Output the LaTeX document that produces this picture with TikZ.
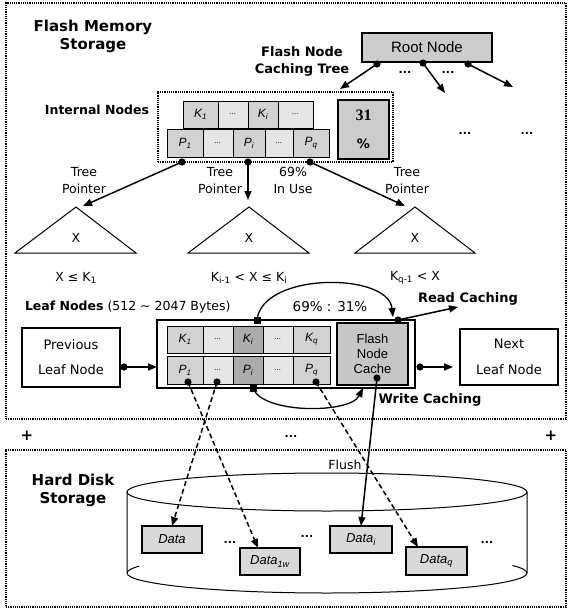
\documentclass[tikz,border=0pt]{standalone}
\usepackage{fontspec}
\setmainfont{DejaVu Sans}
\newfontfamily\arialf{Liberation Sans}
\newfontfamily\timesf{Liberation Serif}
\usetikzlibrary{arrows.meta,calc}
\tikzset{
 ttl/.style={font=\bfseries\fontsize{15}{18}\selectfont, align=center},
 hdr/.style={font=\bfseries\fontsize{13}{17}\selectfont, align=center},
 txt/.style={font=\fontsize{12.5}{17}\selectfont, align=center},
 cellbox/.style={draw, line width=1pt, fill=gray!35, font=\arialf\itshape\fontsize{12}{14}\selectfont},
 lightcell/.style={cellbox, fill=gray!20, font=\arialf\itshape\fontsize{8}{8}\selectfont},
 darkcell/.style={cellbox, fill=gray!65},
 dotbox/.style={draw, line width=1.2pt, densely dotted},
 plainbox/.style={draw, line width=1.3pt, fill=white},
 ptr/.style={line width=1.5pt, -{Triangle[length=9pt,width=7pt]}},
 dptr/.style={ptr, dash pattern=on 5pt off 3pt},
 datab/.style={draw, line width=1.3pt, fill=gray!30, font=\arialf\itshape\fontsize{13}{15}\selectfont},
 ell/.style={font=\bfseries\fontsize{11}{13}\selectfont},
 tri/.style={draw, line width=1pt},
}
\begin{document}
\begin{tikzpicture}[x=1pt,y=-1pt, every node/.style={inner sep=0pt,outer sep=0pt}]
\useasboundingbox (0,0) rectangle (570,608);
% regions
\node[dotbox, minimum width=560, minimum height=416] (flash) at (286,211) {};
\node[dotbox, minimum width=560, minimum height=157] (hdd) at (286,528.5) {};
\node[ttl] (ftitle) at (93,36) {Flash Memory\\Storage};
\node[ttl] (htitle) at (73,490.5) {Hard Disk\\Storage};
\node[hdr] (cttitle) at (302,61.5) {Flash Node\\Caching Tree};
% root
\node[draw, line width=1.3pt, fill=gray!40, minimum width=130, minimum height=29,
      font=\arialf\fontsize{15}{17}\selectfont] (root) at (427,47.5) {Root Node};
\coordinate (rd1) at (377,64); \coordinate (rd2) at (423,63); \coordinate (rd3) at (468,64);
\coordinate (r2end) at (445,93); \coordinate (r3end) at (513,87);
\node[ell] (rdots1) at (405,72) {...};
\node[ell] (rdots2) at (448,72) {...};
\node[ell] (rdots3) at (465,133) {...};
\node[ell] (rdots4) at (527,133) {...};
% internal nodes
\node[font=\bfseries\fontsize{12.5}{15}\selectfont] (inlabel) at (97,110) {Internal Nodes};
\node[dotbox, minimum width=235, minimum height=70] (inbox) at (275.5,127) {};
\node[cellbox, minimum width=35, minimum height=27] (ik1) at (200.5,114.5) {K\textsubscript{1}};
\node[lightcell, minimum width=30, minimum height=27] (ikd1) at (233,114.5) {...};
\node[cellbox, minimum width=30, minimum height=27] (iki) at (263,114.5) {K\textsubscript{i}};
\node[lightcell, minimum width=35, minimum height=27] (ikd2) at (295.5,114.5) {...};
\node[cellbox, minimum width=36, minimum height=28] (ip1) at (185,143) {P\textsubscript{1}};
\node[lightcell, minimum width=30, minimum height=28] (ipd1) at (218,143) {...};
\node[cellbox, minimum width=32, minimum height=28] (ipi) at (249,143) {P\textsubscript{i}};
\node[lightcell, minimum width=28, minimum height=28] (ipd2) at (279,143) {...};
\node[cellbox, minimum width=36, minimum height=28] (ipq) at (311,143) {P\textsubscript{q}};
\node[draw, line width=1.3pt, fill=gray!40, minimum width=51, minimum height=59] (pct) at (363.5,129.5) {};
\node[font=\timesf\bfseries\fontsize{16}{16}\selectfont] (pct31) at (363.5,115) {31};
\node[font=\bfseries\fontsize{13}{13}\selectfont] (pctp) at (363.5,144) {\%};
\coordinate (id1) at (182,162); \coordinate (id2) at (248,162); \coordinate (id3) at (310,162);
% subtrees
\coordinate (t1) at (76,207); \coordinate (t2) at (249,207); \coordinate (t3) at (415,207);
\draw[tri] (t1) -- ++(-61,46) -- ++(121,0) -- cycle;
\draw[tri] (t2) -- ++(-61,46) -- ++(121,0) -- cycle;
\draw[tri] (t3) -- ++(-60,46) -- ++(120,0) -- cycle;
\node[txt] (x1) at (76,238) {X};
\node[txt] (x2) at (249,238) {X};
\node[txt] (x3) at (415,238) {X};
\node[txt] (c1) at (76,278) {X ≤ K\textsubscript{1}};
\node[txt] (c2) at (249,278) {K\textsubscript{i-1} < X ≤ K\textsubscript{i}};
\node[txt] (c3) at (415,278) {K\textsubscript{q-1} < X};
\node[txt] (tp1) at (84,180.5) {Tree\\Pointer};
\node[txt] (tp2) at (220,180.5) {Tree\\Pointer};
\node[txt] (inuse) at (293,180.5) {69\%\\In Use};
\node[txt] (tp3) at (407,180.5) {Tree\\Pointer};
% leaf level
\node[anchor=west, font=\fontsize{12.5}{15}\selectfont] (leaflabel) at (25,307)
  {{\bfseries Leaf Nodes} (512 \textasciitilde{} 2047 Bytes)};
\node[plainbox, minimum width=98, minimum height=59, font=\fontsize{13}{25}\selectfont, align=center] (prev) at (71,357.5) {Previous\\Leaf Node};
\node[plainbox, minimum width=98, minimum height=56, font=\fontsize{13}{26}\selectfont, align=center] (next) at (509,357) {Next\\Leaf Node};
\node[plainbox, minimum width=258, minimum height=68] (leafbox) at (286,354) {};
\node[cellbox, minimum width=36, minimum height=27] (lk1) at (185,339.5) {K\textsubscript{1}};
\node[lightcell, minimum width=30, minimum height=27] (lkd1) at (218,339.5) {...};
\node[darkcell, minimum width=30, minimum height=27] (lki) at (248,339.5) {K\textsubscript{i}};
\node[lightcell, minimum width=30, minimum height=27] (lkd2) at (278,339.5) {...};
\node[cellbox, minimum width=37, minimum height=27] (lkq) at (311.5,339.5) {K\textsubscript{q}};
\node[cellbox, minimum width=36, minimum height=28] (lp1) at (185,370) {P\textsubscript{1}};
\node[lightcell, minimum width=30, minimum height=28] (lpd1) at (218,370) {...};
\node[darkcell, minimum width=30, minimum height=28] (lpi) at (248,370) {P\textsubscript{i}};
\node[lightcell, minimum width=30, minimum height=28] (lpd2) at (278,370) {...};
\node[cellbox, minimum width=37, minimum height=28] (lpq) at (311.5,370) {P\textsubscript{q}};
\node[draw, line width=1.3pt, fill=gray!45, minimum width=71, minimum height=62,
      font=\arialf\fontsize{13}{15}\selectfont, align=center] (cache) at (372.5,354) {Flash\\Node\\Cache};
\node[font=\fontsize{13.5}{15}\selectfont] (ratio) at (330,307) {69\% : 31\%};
\node[hdr] (readc) at (468,299) {Read Caching};
\node[hdr] (writec) at (430,400) {Write Caching};
\coordinate (kitop) at (257,320); \coordinate (pibot) at (253,388);
\coordinate (rcdot) at (398,320); \coordinate (rcend) at (458,307);
\coordinate (wcend) at (363,388);
\coordinate (fldot) at (377,378);
\coordinate (lpd1dot) at (217,382); \coordinate (lp1dot) at (188,382); \coordinate (lpqdot) at (316,382);
\node[ell, font=\bfseries\fontsize{15}{15}\selectfont] (plusl) at (27,436) {+};
\node[ell, font=\bfseries\fontsize{15}{15}\selectfont] (plusr) at (551,436) {+};
\node[ell] (middots) at (291,436) {...};
% disk cylinder
\draw[line width=1pt] (327,492) ellipse [x radius=200, y radius=19];
\draw[line width=1pt] (127,492) -- (127,573) arc[start angle=180, end angle=0, x radius=200, y radius=20] -- (527,492);
\draw[line width=1pt] (127,573) arc[start angle=180, end angle=200, x radius=200, y radius=20];
\draw[line width=1pt] (527,573) arc[start angle=0, end angle=-22, x radius=200, y radius=20];
\node[datab, minimum width=60, minimum height=27] (data0) at (172,539.5) {Data};
\node[datab, minimum width=60, minimum height=27] (data1) at (270,561.5) {Data\textsubscript{1w}};
\node[datab, minimum width=62, minimum height=27] (dati) at (361,539.5) {Data\textsubscript{i}};
\node[datab, minimum width=61, minimum height=28] (dataq) at (436.5,561) {Data\textsubscript{q}};
\node[ell] (ddots1) at (230,542) {...};
\node[ell] (ddots2) at (307,536) {...};
\node[ell] (ddots3) at (487,542) {...};
\node[txt] (flush) at (345,465) {Flush};
% connectors
\foreach \c in {rd1,rd2,rd3,id1,id2,id3,rcdot,fldot,lpd1dot,lp1dot,lpqdot}
  \fill (\c) circle[radius=3.6pt];
\fill ($(kitop)+(-3.5,-3.5)$) rectangle ($(kitop)+(3.5,3.5)$);
\fill ($(pibot)+(-3.5,-3.5)$) rectangle ($(pibot)+(3.5,3.5)$);
\fill ($(prev.east)+(4,9.5)$) circle[radius=3.6pt];
\fill ($(leafbox.east)+(5,13)$) circle[radius=3.6pt];
\draw[ptr] (rd1) -- ($(inbox.north east)+(-53,-3)$);
\draw[ptr] (rd2) -- (r2end);
\draw[ptr] (rd3) -- (r3end);
\draw[ptr] (id1) -- ($(t1)+(7,-1)$);
\draw[ptr] (id2) -- ($(t2)+(-1,-7)$);
\draw[ptr] (id3) -- ($(t3)+(-10,-1)$);
\draw[ptr] ($(prev.east)+(4,9.5)$) -- ($(leafbox.west)+(0,13)$);
\draw[ptr] ($(leafbox.east)+(5,13)$) -- ($(next.west)+(-7,10)$);
\draw[ptr, line width=1.3pt] (kitop) .. controls (262,272) and (388,272) .. ($(rcdot)+(-5,-3)$);
\draw[ptr, line width=1.3pt] (pibot) .. controls (262,414) and (350,414) .. (wcend);
\draw[ptr] (rcdot) -- (rcend);
\draw[ptr] (fldot) -- (dati.north);
\draw[dptr] (lpd1dot) -- (data0.north);
\draw[dptr] (lp1dot) -- ($(data1.north west)+(18,0)$);
\draw[dptr] (lpqdot) -- ($(dataq.north west)+(12,0)$);
\end{tikzpicture}
\end{document}
